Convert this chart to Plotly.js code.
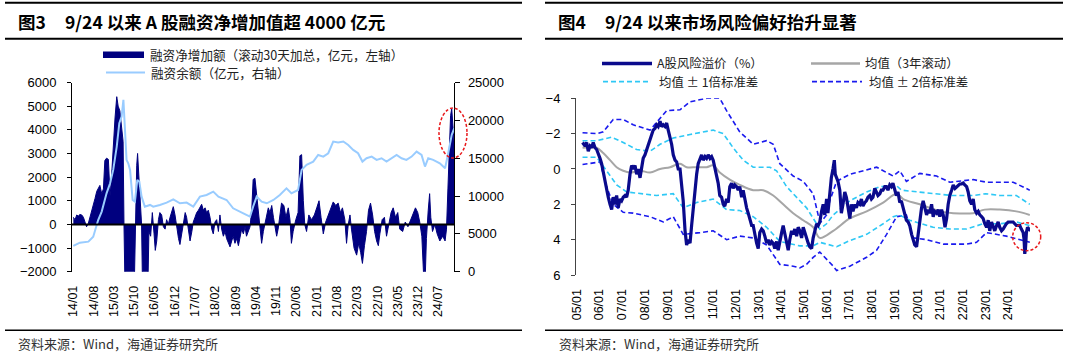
<!DOCTYPE html>
<html><head><meta charset="utf-8">
<script src="https://cdn.plot.ly/plotly-3.0.1.min.js"></script>
<style>html,body{margin:0;padding:0;background:#fff}#c{width:1080px;height:359px}</style>
</head><body><div id="c"></div>
<script>
// ---------- Figure 3 data (months since 2014-01) ----------
const netMonth = [0,0.6,1.2,1.7,2.3,2.9,3.5,4.0,4.6,5.2,5.8,6.3,6.9,7.5,8.1,8.6,9.2,9.8,10.4,10.9,11.5,12.1,12.7,13.2,13.8,14.4,15.0,15.5,16.1,16.7,17.2,17.5,17.9,19.0,20.2,21.1,21.4,21.9,22.2,22.7,23.1,23.6,23.9,24.9,25.8,26.1,26.7,27.3,27.9,28.3,28.8,29.4,29.9,30.5,31.1,31.7,32.2,32.8,33.4,34.0,34.5,35.1,35.7,36.3,36.8,37.4,38.0,38.6,39.1,39.7,40.3,40.9,41.4,42.0,42.6,43.2,43.7,44.3,44.9,45.5,46.0,46.6,47.2,47.8,48.3,48.9,49.5,50.1,50.6,51.2,51.8,52.4,52.9,53.5,54.1,54.7,55.2,55.8,56.4,57.0,57.5,58.1,58.7,59.3,59.8,60.4,61.0,61.6,62.1,62.7,63.3,63.9,64.5,65.0,65.6,66.2,66.8,67.3,67.9,68.5,69.1,69.6,70.2,70.7,71.3,71.9,72.7,73.4,74.2,74.8,75.3,75.9,76.8,77.6,78.2,78.8,79.4,79.9,80.5,81.3,82.2,83.2,84.0,84.8,85.5,86.3,87.1,88.0,88.8,89.7,90.6,91.4,92.2,92.9,93.7,94.3,94.9,95.5,96.0,96.9,97.8,98.5,99.2,99.8,100.5,101.2,101.9,102.6,103.3,104.0,104.7,105.3,105.8,106.6,107.4,108.1,108.9,109.7,110.4,111.2,112.0,112.7,113.7,114.6,115.5,116.4,117.3,118.1,118.9,119.6,120.3,120.9,121.5,121.9,122.5,123.0,123.4,124.0,124.8,125.6,126.5,127.5,128.3,128.8,129.3,129.8,130.2,130.6,130.9,131.4];
const netValue = [300,200,400,350,420,400,300,100,-100,50,300,500,800,1100,1400,1500,1650,1300,1500,2700,2800,2750,1200,2000,3500,4500,5400,5000,4800,4200,3500,0,-3000,-4000,-3500,-2500,0,2500,3000,2000,1200,0,-2500,-3500,-2500,-300,-500,500,-400,-1100,-700,200,500,400,-100,-200,200,0,300,600,750,400,-200,-600,-850,-400,200,500,300,-300,-700,-300,100,300,500,600,700,850,600,700,500,600,300,-200,-400,100,200,-300,400,-200,-500,-300,-600,-800,-950,-700,-500,-800,-600,-900,-500,-200,-400,-100,-500,-300,-100,600,1900,1950,1200,300,-400,-800,-300,100,500,700,500,800,300,0,-500,-200,400,900,800,300,700,200,-800,-300,200,500,2900,2950,1000,0,-300,400,200,400,700,1000,300,-400,100,400,700,950,800,900,500,700,200,-800,0,400,-200,-1000,-1300,-800,-1200,-1650,-900,-300,600,900,400,-300,-700,-900,-400,200,300,-500,0,500,700,300,500,-200,-300,100,-100,200,500,700,500,100,-500,-2100,-2200,-600,600,1300,300,-300,0,-400,-700,-500,-700,-200,1500,3500,4600,4900,4200,3500];
const balMonth = [0,2.3,5.2,6.9,8.6,9.8,11.5,12.7,13.8,15.0,15.9,16.7,17.3,17.9,18.4,19.0,19.6,20.5,21.3,22.1,22.8,23.6,24.7,26.5,27.6,29.9,32.2,34.5,36.8,39.1,41.4,43.7,46.0,48.3,50.1,52.9,55.2,58.7,61.0,62.1,63.3,65.0,66.8,69.1,71.3,73.6,75.3,77.6,78.8,80.5,82.8,84.5,86.3,88.0,89.7,91.4,93.2,94.9,96.6,98.3,99.8,101.2,103.0,104.7,106.4,108.1,109.9,111.6,113.3,115.0,116.8,118.5,120.2,121.4,122.5,124.2,126.5,128.3,129.4,130.6,131.5];
const balValue = [3400,3840,3970,4630,6830,7940,10360,11680,13450,16530,19620,20500,22710,17860,14770,14330,13450,9480,9260,12125,11900,9920,8600,8820,8600,8820,9130,9570,9040,9130,8600,9920,10140,10580,9920,9480,8380,7720,7280,8600,9920,9260,9040,9480,10140,11020,10360,10800,13450,14110,14550,15430,15210,15650,17200,17070,17200,16750,16090,15650,14550,14990,15210,14770,14990,14550,14990,15430,14990,14770,15210,15870,15430,13890,14990,14770,14330,13670,15650,18080,18960];
const fig3Ticks = {start: '2014-01-01', stepMonths: 7};

// ---------- Figure 4 data (years since 2005-01) ----------
const riskYear = [0.26,0.37,0.44,0.51,0.59,0.66,0.73,0.81,0.88,0.95,1.03,1.10,1.17,1.25,1.32,1.39,1.47,1.54,1.61,1.69,1.76,1.83,1.91,1.98,2.05,2.13,2.20,2.27,2.35,2.42,2.49,2.57,2.64,2.71,2.79,2.86,2.93,3.01,3.08,3.15,3.23,3.30,3.37,3.45,3.52,3.59,3.67,3.74,3.81,3.89,3.96,4.03,4.11,4.18,4.25,4.33,4.40,4.47,4.55,4.62,4.69,4.77,4.84,4.91,4.99,5.06,5.13,5.21,5.28,5.35,5.43,5.50,5.57,5.65,5.72,5.79,5.87,5.94,6.01,6.09,6.16,6.23,6.30,6.38,6.45,6.52,6.60,6.67,6.74,6.82,6.89,6.96,7.04,7.11,7.18,7.26,7.33,7.40,7.48,7.55,7.62,7.70,7.77,7.84,7.92,7.99,8.06,8.14,8.21,8.28,8.36,8.43,8.50,8.58,8.65,8.72,8.80,8.87,8.94,9.02,9.09,9.16,9.24,9.31,9.38,9.46,9.53,9.60,9.68,9.75,9.82,9.90,9.97,10.04,10.12,10.19,10.26,10.34,10.41,10.48,10.56,10.63,10.70,10.78,10.85,10.92,11.00,11.06,11.14,11.21,11.28,11.34,11.38,11.43,11.50,11.58,11.65,11.72,11.80,11.87,11.94,12.02,12.09,12.16,12.24,12.31,12.38,12.46,12.53,12.60,12.68,12.75,12.82,12.90,12.97,13.04,13.12,13.19,13.26,13.34,13.41,13.48,13.56,13.63,13.70,13.78,13.85,13.92,14.00,14.07,14.14,14.22,14.29,14.37,14.44,14.51,14.59,14.66,14.74,14.81,14.88,14.96,15.03,15.10,15.18,15.25,15.32,15.40,15.47,15.54,15.62,15.69,15.76,15.84,15.91,15.98,16.06,16.13,16.21,16.28,16.35,16.42,16.50,16.57,16.65,16.72,16.79,16.86,16.94,17.01,17.08,17.16,17.23,17.30,17.38,17.45,17.52,17.60,17.67,17.74,17.82,17.89,17.96,18.04,18.11,18.18,18.26,18.33,18.40,18.48,18.55,18.62,18.70,18.77,18.84,18.91,18.99,19.06,19.21,19.35,19.50,19.57,19.65,19.69,19.72,19.75,19.79,19.84,19.91,19.97];
const riskValue = [-1.5,-1.3,-1.5,-1.0,-1.3,-1.2,-1.5,-1.2,-1.1,-0.8,-0.6,-0.3,0.2,0.8,1.3,1.6,2.0,2.3,1.6,2.0,1.5,2.2,1.7,1.8,1.6,1.5,1.6,1.2,0.3,-0.2,0.0,-0.2,0.3,0.0,0.5,0.0,-0.6,-0.8,-1.1,-1.3,-1.6,-2.0,-2.2,-2.3,-2.5,-2.4,-2.7,-2.4,-2.5,-2.4,-2.6,-2.2,-1.8,-1.4,-0.8,-0.5,-0.4,0.0,0.0,0.8,1.8,3.5,4.3,4.0,4.2,3.2,2.2,1.5,0.3,-0.3,-0.6,-0.8,-0.5,-0.7,-0.6,-0.8,-0.6,-0.7,-0.5,0.0,0.3,0.8,1.5,1.6,2.0,2.1,1.7,1.9,1.0,0.8,1.1,0.9,1.0,1.2,1.0,1.6,1.2,1.8,2.2,2.5,2.8,3.2,3.2,3.8,4.2,4.5,3.6,3.4,3.5,3.8,4.2,4.0,4.3,4.1,4.2,4.5,4.1,4.6,4.0,3.6,3.2,3.6,4.2,4.6,4.0,3.5,3.7,3.4,3.8,3.3,3.5,3.9,3.3,3.6,3.8,4.2,4.4,4.5,3.9,3.5,3.1,3.2,3.0,2.4,2.0,2.6,1.7,2.5,1.4,0.5,0.0,-0.5,0.3,0.5,0.7,1.2,2.5,2.0,1.3,1.6,2.2,2.8,2.0,2.4,2.0,2.2,1.9,2.0,1.7,2.1,1.9,1.8,1.6,1.5,1.7,1.6,1.1,1.3,1.5,1.4,1.2,1.2,1.0,1.0,1.2,0.9,1.0,0.8,1.2,1.5,1.3,1.9,1.8,2.2,2.6,2.9,3.0,3.2,3.7,4.0,4.3,4.4,3.6,3.0,2.2,1.8,2.2,2.6,2.3,2.5,2.0,2.7,2.4,2.5,2.3,2.7,2.3,2.6,3.3,2.8,2.0,1.5,1.2,0.9,1.1,1.0,0.9,0.85,0.85,0.8,0.9,1.0,1.3,1.8,2.0,1.7,2.3,2.5,2.4,2.6,2.7,2.8,3.1,3.3,2.9,3.5,3.0,3.3,3.5,3.2,3.0,3.3,3.5,3.4,3.2,3.1,3.0,3.0,3.0,3.2,3.2,3.4,3.6,4.0,4.8,4.5,3.6,3.3,3.4,3.5];
const meanYear = [0.26,0.88,1.17,1.47,1.76,2.05,2.35,2.79,3.23,3.67,4.11,4.55,4.84,5.28,5.72,6.01,6.30,6.74,7.18,7.77,8.21,8.65,9.09,9.53,9.97,10.41,10.70,11.29,12.02,12.76,13.49,14.08,14.37,15.10,16.00,16.57,17.45,17.96,18.62,19.35,19.94];
const meanValue = [-1.2,-1.2,-0.9,-0.5,-0.1,0.1,0.2,0.1,0.2,0.0,-0.1,-0.3,-0.1,-0.1,-0.1,-0.2,0.2,0.6,0.9,1.2,1.2,1.5,2.0,2.5,2.9,3.3,3.9,3.5,2.8,2.4,1.9,1.4,1.7,2.0,2.4,2.5,2.5,2.3,2.3,2.4,2.6];
const sd1UpYear = [0.26,0.88,1.54,2.05,2.64,3.23,3.67,4.25,4.99,6.01,6.45,6.89,7.33,7.77,8.50,8.80,9.24,9.68,10.12,10.56,10.70,11.00,11.29,12.02,12.76,13.34,14.08,14.30,15.10,16.00,16.50,17.45,18.00,18.62,19.35,19.94];
const sd1UpValue = [-1.6,-1.6,-1.8,-1.5,-1.1,-1.0,-1.4,-1.75,-1.95,-2.2,-2.0,-1.2,-0.5,-0.1,-0.1,0.1,1.0,1.6,2.2,3.1,3.4,3.1,2.6,1.8,1.3,1.0,0.95,1.2,1.3,1.4,1.5,1.5,1.4,1.5,1.5,2.0];
const sd1LoYear = [0.26,0.88,1.32,1.76,2.20,2.79,3.52,4.25,4.69,5.28,6.01,6.60,7.18,7.77,8.36,8.94,9.53,9.82,10.12,10.41,10.70,11.44,12.02,12.76,13.49,13.93,14.20,14.66,15.69,16.42,17.16,17.89,18.62,19.35,19.94];
const sd1LoValue = [-0.66,-0.66,0.1,0.9,1.3,1.4,1.5,1.4,2.2,1.9,1.7,2.3,2.35,2.7,3.3,4.1,4.25,4.35,4.35,4.35,4.15,4.4,4.05,3.7,3.1,2.7,2.6,2.9,3.3,3.4,3.4,3.1,3.1,3.0,3.2];
const sd2UpYear = [0.26,0.88,1.17,1.47,1.61,2.05,2.49,3.23,3.96,4.55,4.99,5.72,6.30,6.60,7.18,7.77,8.36,8.65,8.94,9.53,9.97,10.41,10.63,10.75,11.00,11.14,11.44,12.02,13.20,13.93,14.22,14.51,15.10,15.84,16.42,17.45,18.04,19.21,19.94];
const sd2UpValue = [-2.05,-2.0,-2.1,-2.6,-2.8,-2.8,-2.5,-2.2,-3.3,-3.35,-3.8,-4.0,-4.0,-3.3,-2.1,-1.4,-1.6,-1.4,-0.3,0.4,0.7,1.4,2.6,3.0,2.6,1.8,0.7,0.3,-0.1,0.4,0.1,0.7,0.25,0.4,0.75,0.6,0.75,0.75,1.2];
const sd2LoYear = [0.26,1.03,1.32,1.61,2.05,2.49,3.23,3.81,4.25,4.69,5.43,6.01,6.60,7.18,7.77,8.36,8.94,9.53,9.82,10.12,10.41,10.70,11.29,11.44,12.02,12.76,13.20,13.64,14.08,14.51,14.81,15.40,16.13,17.16,17.60,18.04,18.91,19.50,19.94];
const sd2LoValue = [-0.25,-0.4,1.0,2.0,2.45,2.5,2.7,3.0,2.7,3.7,3.6,3.5,4.0,3.8,3.9,4.3,5.4,5.5,5.6,5.4,5.0,4.7,5.5,5.75,5.5,5.0,4.6,3.7,2.7,2.6,3.9,4.0,4.25,4.25,4.15,3.6,3.8,4.0,4.15];

// ---------- text ----------
const fig3Title = '9/24 以来 A 股融资净增加值超 4000 亿元';
const fig4Title = '9/24 以来市场风险偏好抬升显著';
const fig3Legend = ['融资净增加额（滚动30天加总，亿元，左轴）', '融资余额（亿元，右轴）'];
const fig4Legend = ['A股风险溢价（%）', '均值（3年滚动）', '均值 ± 1倍标准差', '均值 ± 2倍标准差'];
const sourceText = '资料来源：Wind，海通证券研究所';

// ---------- helpers ----------
function yearToDate(y) {
  const yr = Math.floor(y), f = y - yr;
  const a = Date.UTC(yr, 0, 1), b = Date.UTC(yr + 1, 0, 1);
  return new Date(a + f * (b - a)).toISOString().slice(0, 10);
}
const fromMonths = m => yearToDate(2014 + m / 12);
const fromYears = t => yearToDate(2005 + t);
const W = 1080, H = 359;
const px = x => x / W, py = y => 1 - y / H;

const FONT = 'Liberation Sans, Arial, Noto Sans CJK SC, sans-serif';
const CJK = 'Noto Sans CJK SC, Liberation Sans, sans-serif';
const NAVY = '#00007f', LIGHT = '#99ccff', RISK = '#0a0a8c', GRAY = '#a6a6a6', CYAN = '#2ec8f5', BLUE = '#1a1aee';

const traces = [
  {x: netMonth.map(fromMonths), y: netValue, type: 'scatter', mode: 'lines', fill: 'tozeroy',
   fillcolor: NAVY, line: {color: NAVY, width: 1}, xaxis: 'x', yaxis: 'y', showlegend: false, name: fig3Legend[0]},
  {x: balMonth.map(fromMonths), y: balValue, type: 'scatter', mode: 'lines',
   line: {color: LIGHT, width: 2}, xaxis: 'x', yaxis: 'y2', showlegend: false, name: fig3Legend[1]},
  {x: sd2UpYear.map(fromYears), y: sd2UpValue, type: 'scatter', mode: 'lines', line: {color: BLUE, width: 1.6, dash: '5px,3px'}, xaxis: 'x3', yaxis: 'y3', showlegend: false, name: fig4Legend[3]},
  {x: sd2LoYear.map(fromYears), y: sd2LoValue, type: 'scatter', mode: 'lines', line: {color: BLUE, width: 1.6, dash: '5px,3px'}, xaxis: 'x3', yaxis: 'y3', showlegend: false, name: fig4Legend[3]},
  {x: sd1UpYear.map(fromYears), y: sd1UpValue, type: 'scatter', mode: 'lines', line: {color: CYAN, width: 1.6, dash: '5px,3px'}, xaxis: 'x3', yaxis: 'y3', showlegend: false, name: fig4Legend[2]},
  {x: sd1LoYear.map(fromYears), y: sd1LoValue, type: 'scatter', mode: 'lines', line: {color: CYAN, width: 1.6, dash: '5px,3px'}, xaxis: 'x3', yaxis: 'y3', showlegend: false, name: fig4Legend[2]},
  {x: meanYear.map(fromYears), y: meanValue, type: 'scatter', mode: 'lines', line: {color: GRAY, width: 2, shape: 'spline'}, xaxis: 'x3', yaxis: 'y3', showlegend: false, name: fig4Legend[1]},
  {x: riskYear.map(fromYears), y: riskValue, type: 'scatter', mode: 'lines', line: {color: RISK, width: 3.2}, xaxis: 'x3', yaxis: 'y3', showlegend: false, name: fig4Legend[0]}
];

const tickFont = {family: FONT, size: 13, color: '#000'};
const layout = {
  width: W, height: H, margin: {l: 0, r: 0, t: 0, b: 0},
  paper_bgcolor: '#fff', plot_bgcolor: 'rgba(0,0,0,0)', showlegend: false,
  xaxis: {domain: [px(72), px(454.3)], type: 'date', range: [fromMonths(-0.45), fromMonths(131.5)],
          tick0: fig3Ticks.start, dtick: 'M' + fig3Ticks.stepMonths, tickformat: '%y/%m', tickangle: -90,
          showline: false, showgrid: false, zeroline: false, ticks: 'outside', ticklen: 8, tickcolor: 'rgba(0,0,0,0)',
          tickfont: {family: FONT, size: 12.5, color: '#000'}, anchor: 'y'},
  yaxis: {domain: [py(271.7), py(82.5)], range: [-2000, 6000], dtick: 1000, tickformat: 'd', showline: true, linecolor: '#000', linewidth: 1,
          ticks: 'outside', ticklen: 4, tickcolor: '#000', showgrid: false, zeroline: false, tickfont: tickFont,
          ticklabelstandoff: 8, anchor: 'x'},
  yaxis2: {overlaying: 'y', side: 'right', anchor: 'x', range: [0, 25000], dtick: 5000, tickformat: 'd', showline: true, linecolor: '#000', linewidth: 1,
           ticks: 'outside', ticklen: 5, tickcolor: '#000', showgrid: false, zeroline: false, tickfont: tickFont, ticklabelstandoff: 5},
  xaxis3: {domain: [px(576), px(1030)], type: 'date', range: [fromYears(-0.03), fromYears(19.95)],
           tick0: '2005-01-01', dtick: 'M12', tickformat: '%y/%m', tickangle: -90,
           showline: false, showgrid: false, zeroline: false, ticks: 'outside', ticklen: 8, tickcolor: 'rgba(0,0,0,0)',
           tickfont: {family: FONT, size: 12.5, color: '#000'}, anchor: 'y3'},
  xaxis4: {overlaying: 'x3', anchor: 'free', position: py(184.2), type: 'date', range: [fromYears(-0.03), fromYears(19.95)],
           tick0: '2005-01-01', dtick: 'M12', showticklabels: false, showline: true, linecolor: '#999', linewidth: 1,
           ticks: 'inside', ticklen: 4, tickcolor: '#999', showgrid: false, zeroline: false},
  yaxis3: {domain: [py(275), py(98.3)], range: [6, -4], dtick: 2, showline: true, linecolor: '#444', linewidth: 1,
           ticks: 'outside', ticklen: 4, tickcolor: '#444', showgrid: false, zeroline: false, tickfont: tickFont,
           ticklabelstandoff: 8, anchor: 'x3'},
  shapes: [], annotations: []
};

const S = layout.shapes, A = layout.annotations;
function hline(x0, x1, y, w, color, dash) {
  S.push({type: 'line', xref: 'paper', yref: 'paper', x0: px(x0), x1: px(x1), y0: py(y), y1: py(y),
          line: {color: color || '#000', width: w, dash: dash || 'solid'}, layer: 'above'});
}
function text(x, y, s, size, opts) {
  A.push(Object.assign({xref: 'paper', yref: 'paper', x: px(x), y: py(y), text: s, showarrow: false, borderpad: 0,
    xanchor: 'left', yanchor: 'middle', font: {family: CJK, size: size, color: '#222'}}, opts || {}));
}
// rules
hline(5, 522, 2.7, 2); hline(5, 522, 38.8, 2); hline(5, 522, 330.3, 1.5);
hline(545, 1063, 2.7, 2); hline(545, 1063, 38.8, 2); hline(545, 1063, 330.3, 1.5);
// titles
const TF = {family: CJK, size: 17.5, color: '#000', weight: 700};
text(17, 21.5, '图3', 17.5, {font: TF});
text(64, 21.5, fig3Title, 17.5, {font: TF});
text(557, 21.5, '图4', 17.5, {font: TF});
text(604, 21.5, fig4Title, 17.5, {font: TF});
// sources
text(17, 343, sourceText, 13, {font: {family: CJK, size: 13, color: '#333'}});
text(558, 343, sourceText, 13, {font: {family: CJK, size: 13, color: '#333'}});
// fig3 legend
S.push({type: 'rect', xref: 'paper', yref: 'paper', x0: px(103), x1: px(144), y0: py(58), y1: py(51.5),
        fillcolor: NAVY, line: {width: 0}});
text(149, 54.3, fig3Legend[0], 12.6);
hline(106, 145, 72.5, 2, LIGHT);
text(150, 72.8, fig3Legend[1], 12.6);
// fig4 legend
hline(602, 652, 63.5, 3.5, RISK);
text(656, 63.3, fig4Legend[0], 12.4);
hline(811, 860, 63.5, 2.5, GRAY);
text(864, 63.3, fig4Legend[1], 12.4);
hline(603, 650, 81.7, 1.8, CYAN, '5px,3px');
text(658, 81.9, fig4Legend[2], 12.4);
hline(812, 862, 81.7, 1.8, BLUE, '5px,3px');
text(868, 81.9, fig4Legend[3], 12.4);
// zero line of fig3
S.push({type: 'line', xref: 'paper', yref: 'y', x0: px(72), x1: px(454.3), y0: 0, y1: 0,
        line: {color: '#000', width: 2}, layer: 'above'});
// red highlight circles
S.push({type: 'circle', xref: 'paper', yref: 'paper', x0: px(439), x1: px(467), y0: py(158), y1: py(108),
        line: {color: '#e8191c', width: 1.5, dash: '3px,2px'}, layer: 'above'});
S.push({type: 'circle', xref: 'paper', yref: 'paper', x0: px(1012.7), x1: px(1040.7), y0: py(250.7), y1: py(222.7),
        line: {color: '#e8191c', width: 1.5, dash: '3px,2px'}, layer: 'above'});

Plotly.newPlot('c', traces, layout, {displayModeBar: false, staticPlot: true});
</script></body></html>
